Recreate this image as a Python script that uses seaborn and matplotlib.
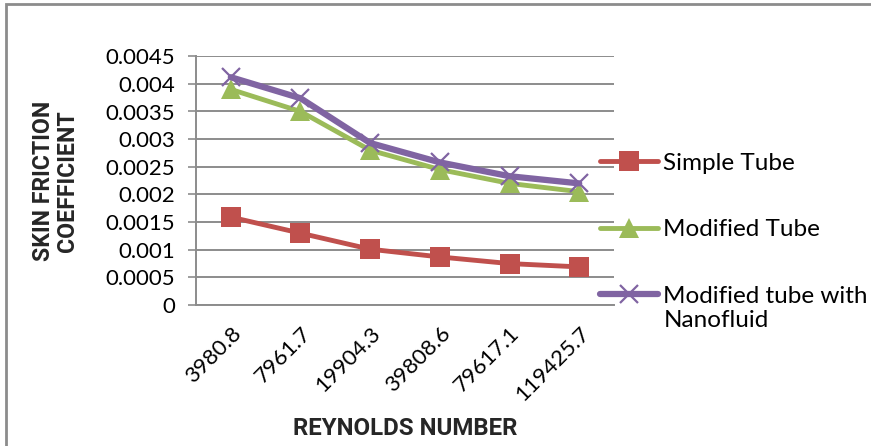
import matplotlib
matplotlib.use("Agg")
import matplotlib.pyplot as plt
from matplotlib import font_manager
from matplotlib.font_manager import FontProperties
from matplotlib.legend_handler import HandlerLine2D
import seaborn as sns
import pandas as pd
import numpy as np

reynolds = ["3980.8", "7961.7", "19904.3", "39808.6", "79617.1", "119425.7"]
simple_tube = [0.00159, 0.0013, 0.00101, 0.00087, 0.00075, 0.00069]
modified_tube = [0.0039, 0.0035, 0.0028, 0.00245, 0.0022, 0.00205]
modified_nano = [0.00412, 0.00374, 0.00293, 0.00258, 0.00233, 0.0022]
series_names = ["Simple Tube", "Modified Tube", "Modified tube with\nNanofluid"]
yticks = [0, 0.0005, 0.001, 0.0015, 0.002, 0.0025, 0.003, 0.0035, 0.004, 0.0045]
ytick_labels = ["0", "0.0005", "0.001", "0.0015", "0.002", "0.0025", "0.003", "0.0035", "0.004", "0.0045"]
x_title = "REYNOLDS NUMBER"
y_title = "SKIN FRICTION\nCOEFFICIENT"

sns.set_theme(style="white")
plt.rcParams["font.family"] = ["Lato", "DejaVu Sans"]
plt.rcParams["text.color"] = "black"
plt.rcParams["xtick.color"] = "black"
plt.rcParams["ytick.color"] = "black"

names = {f.name for f in font_manager.fontManager.ttflist}
if "Liberation Sans Narrow" in names:
    title_fp = FontProperties(family=["Liberation Sans Narrow"], weight="bold")
else:
    title_fp = FontProperties(family=["Roboto", "DejaVu Sans"], weight="bold")

fig = plt.figure(figsize=(8.71, 4.46), dpi=100)
ax = fig.add_axes([0.225, 0.316, 0.48, 0.558])
renderer = fig.canvas.get_renderer()


def fit_size(s, target_px, base=16.0):
    fp = title_fp.copy()
    fp.set_size(base)
    t = fig.text(0, 0, s, fontproperties=fp)
    w = t.get_window_extent(renderer).width
    t.remove()
    return base * target_px / w


colors = ["#C0504D", "#9BBB59", "#8064A2"]
markers = ["s", "^", "x"]
msizes = [14, 15, 13]
lwidths = [3.5, 3.5, 4.5]
for name, vals, c, m, ms, lw in zip(series_names, [simple_tube, modified_tube, modified_nano],
                                    colors, markers, msizes, lwidths):
    df = pd.DataFrame({"x": reynolds, "y": vals})
    sns.lineplot(data=df, x="x", y="y", ax=ax, color=c, linewidth=lw, marker=m,
                 markersize=ms, markeredgecolor=c, markeredgewidth=1.6 if m == "x" else 0,
                 label=name, sort=False)

ax.set_xlim(-0.5, 5.5)
ax.set_ylim(0, 0.0045)
ax.set_yticks(yticks)
ax.set_yticklabels(ytick_labels, fontsize=16)
ax.yaxis.grid(True, color="#8c8c8c", linewidth=1.4)
ax.xaxis.grid(False)
ax.tick_params(axis="y", which="both", left=True, length=6, width=1.2, color="#8c8c8c", pad=9)
ax.tick_params(axis="x", bottom=False, length=0, labelsize=16, pad=13)
plt.setp(ax.get_xticklabels(), rotation=45, ha="right", va="top", rotation_mode="anchor")
for s in ["top", "right"]:
    ax.spines[s].set_visible(False)
for s in ["left", "bottom"]:
    ax.spines[s].set_color("#8c8c8c")
    ax.spines[s].set_linewidth(1.4)

xfp = title_fp.copy()
xfp.set_size(fit_size(x_title, 224))
ax.set_xlabel(x_title, fontproperties=xfp)
ax.xaxis.set_label_coords(0.5, -0.494)
ax.xaxis.label.set_va("center")

yfp = title_fp.copy()
yfp.set_size(fit_size("SKIN FRICTION", 160))
ax.set_ylabel(y_title, fontproperties=yfp, linespacing=1.05, multialignment="center")
ax.yaxis.set_label_coords(-0.28, 0.5)


class ShiftedHandler(HandlerLine2D):
    def __init__(self, shift, **kw):
        super().__init__(**kw)
        self.shift = shift

    def create_artists(self, legend, orig_handle, xdescent, ydescent, width, height, fontsize, trans):
        artists = super().create_artists(legend, orig_handle, xdescent, ydescent, width, height, fontsize, trans)
        for a in artists:
            a.set_ydata(np.asarray(a.get_ydata()) + self.shift)
        return artists


h, l = ax.get_legend_handles_labels()
ax.get_legend().remove()
fig.legend(h, l, loc="upper left", bbox_to_anchor=(0.689, 0.657), frameon=False,
           fontsize=17.5, handlelength=2.4, handletextpad=0.2, labelspacing=1.87,
           borderpad=0, borderaxespad=0,
           handler_map={h[2]: ShiftedHandler(10.5)})

border = plt.Rectangle((0.007, -0.02), 1.1, 1.01, transform=fig.transFigure, fill=False,
                       edgecolor="#8c8c8c", linewidth=2)
fig.patches.append(border)

fig.savefig("out.png", dpi=100)
